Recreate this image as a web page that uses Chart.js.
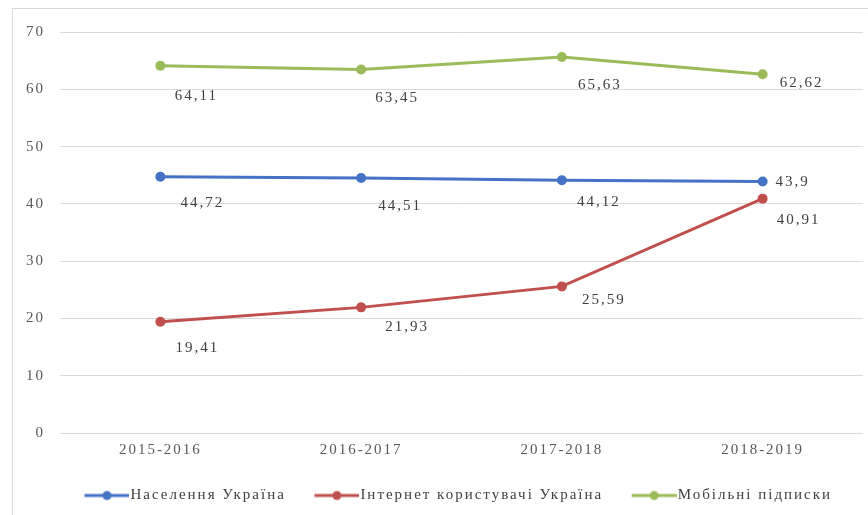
<!DOCTYPE html>
<html>
<head>
<meta charset="utf-8">
<script src="https://cdn.jsdelivr.net/npm/chart.js@4.4.0/dist/chart.umd.min.js"></script>
<style>
  html, body { margin: 0; padding: 0; background: #fff; overflow: hidden; }
  #wrap { position: relative; width: 868px; height: 515px; }
  #frame { position: absolute; left: 12px; top: 8px; width: 900px; height: 600px;
           border: 1px solid #d9d9d9; box-sizing: border-box; }
  #c { position: absolute; left: 0; top: 0; }
</style>
</head>
<body>
<div id="wrap">
  <div id="frame"></div>
  <canvas id="c" width="868" height="515"></canvas>
</div>
<script>
// Periods and series values (millions)
const periods = ['2015-2016', '2016-2017', '2017-2018', '2018-2019'];
const population = [44.72, 44.51, 44.12, 43.9];
const internetUsers = [19.41, 21.93, 25.59, 40.91];
const mobileSubs = [64.11, 63.45, 65.63, 62.62];
const seriesNames = ['Населення Україна', 'Інтернет користувачі Україна', 'Мобільні підписки'];
const yTicks = [0, 10, 20, 30, 40, 50, 60, 70];

const COLORS = ['#4472c4', '#c0504d', '#9bbb59'];
const FONT = '"Liberation Serif", "Times New Roman", serif';
const SPACING = '2px';

// Placement of each value label relative to its point (label centre offset)
const LABEL_SHIFT = [
  [[42, 26], [39, 28], [37, 22], [30, 1]],
  [[37, 26], [46, 20], [42, 14], [36, 21]],
  [[36, 30], [36, 29], [38, 28], [39, 9]]
];

// Legend marker: line with a dot in the middle, drawn at the right of the image
function legendMarker(color) {
  const cv = document.createElement('canvas');
  cv.width = 70; cv.height = 14;
  const g = cv.getContext('2d');
  g.strokeStyle = color; g.lineWidth = 3;
  g.beginPath(); g.moveTo(25, 7); g.lineTo(70, 7); g.stroke();
  g.fillStyle = color;
  g.beginPath(); g.arc(47.5, 7, 4.5, 0, Math.PI * 2); g.fill();
  return cv;
}
const markers = COLORS.map(legendMarker);

// Wide-set serif text on the whole canvas
const spacingPlugin = {
  id: 'spacing',
  beforeUpdate(chart) { chart.ctx.letterSpacing = SPACING; },
  beforeLayout(chart) { chart.ctx.letterSpacing = SPACING; },
  beforeDraw(chart) { chart.ctx.letterSpacing = SPACING; },
  // legend row sits a little right of the canvas centre
  afterLayout(chart) {
    if (chart.legend) { chart.legend.left += 15; chart.legend.right += 15; }
  }
};

// Value labels next to every point
const valueLabels = {
  id: 'valueLabels',
  afterDatasetsDraw(chart) {
    const ctx = chart.ctx;
    ctx.save();
    ctx.letterSpacing = SPACING;
    ctx.font = '15px ' + FONT;
    ctx.fillStyle = '#404040';
    ctx.textAlign = 'center';
    ctx.textBaseline = 'middle';
    chart.data.datasets.forEach((ds, di) => {
      const meta = chart.getDatasetMeta(di);
      meta.data.forEach((pt, i) => {
        const [dx, dy] = LABEL_SHIFT[di][i];
        const txt = String(ds.data[i]).replace('.', ',');
        ctx.fillText(txt, pt.x + dx, pt.y + dy);
      });
    });
    ctx.restore();
  }
};

const makeSet = (label, data, color) => ({
  label, data,
  borderColor: color, backgroundColor: color,
  borderWidth: 3, tension: 0,
  pointRadius: 5, pointHoverRadius: 5,
  pointBackgroundColor: color, pointBorderColor: color, pointBorderWidth: 0
});

new Chart(document.getElementById('c'), {
  type: 'line',
  data: {
    labels: periods,
    datasets: [
      makeSet(seriesNames[0], population, COLORS[0]),
      makeSet(seriesNames[1], internetUsers, COLORS[1]),
      makeSet(seriesNames[2], mobileSubs, COLORS[2])
    ]
  },
  options: {
    responsive: false,
    animation: false,
    devicePixelRatio: 1,
    layout: { padding: { left: 0, right: 0, top: 32, bottom: 2 } },
    plugins: {
      tooltip: { enabled: false },
      legend: {
        position: 'bottom',
        labels: {
          usePointStyle: true,
          pointStyleWidth: 57,
          padding: 10,
          color: '#404040',
          font: { family: FONT, size: 15 },
          generateLabels(chart) {
            const items = Chart.defaults.plugins.legend.labels.generateLabels(chart);
            items.forEach((it, i) => { it.pointStyle = markers[i]; });
            return items;
          }
        }
      }
    },
    scales: {
      x: {
        offset: true,
        grid: { display: false, drawTicks: false },
        border: { display: false },
        ticks: { color: '#595959', font: { family: FONT, size: 15 }, padding: 8, maxRotation: 0 },
        afterFit(scale) { scale.height = 45; }
      },
      y: {
        min: 0, max: 70,
        afterBuildTicks(scale) { scale.ticks = yTicks.map(v => ({ value: v })); },
        grid: { color: '#d9d9d9', lineWidth: 1, drawTicks: false },
        border: { display: false },
        ticks: { color: '#595959', font: { family: FONT, size: 15 }, padding: 15 },
        afterFit(scale) { scale.width = 60; }
      }
    }
  },
  plugins: [spacingPlugin, valueLabels]
});
</script>
</body>
</html>
